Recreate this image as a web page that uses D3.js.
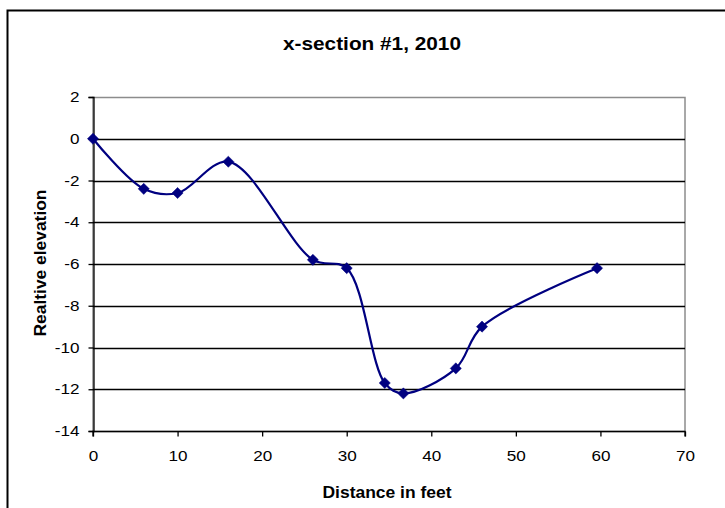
<!DOCTYPE html>
<html>
<head>
<meta charset="utf-8">
<script src="https://cdn.jsdelivr.net/npm/d3@7/dist/d3.min.js"></script>
<style>
  html, body { margin: 0; padding: 0; background: #fff; }
  svg { display: block; }
  text { font-family: "Liberation Sans", Arial, sans-serif; fill: #000; }
</style>
</head>
<body>
<svg id="chart" width="725" height="508"></svg>
<script>
const distances = [0, 6, 10, 16, 26, 30, 34.5, 36.7, 42.9, 46, 59.6];
const elevations = [0, -2.4, -2.6, -1.1, -5.8, -6.2, -11.7, -12.2, -11.0, -9.0, -6.2];
const xTicks = [0, 10, 20, 30, 40, 50, 60, 70];
const yTicks = [2, 0, -2, -4, -6, -8, -10, -12, -14];
const titleText = "x-section #1, 2010";
const xTitle = "Distance in feet";
const yTitle = "Realtive elevation";

const svg = d3.select("#chart");
const m = { left: 93, right: 685, top: 97, bottom: 431 };

// outer chart border
svg.append("rect")
  .attr("x", 7.5).attr("y", 10.5)
  .attr("width", 740).attr("height", 520)
  .attr("fill", "#fff").attr("stroke", "#000").attr("stroke-width", 2);

const x = d3.scaleLinear().domain([0, 70]).range([m.left, m.right]);
const y = d3.scaleLinear().domain([-14, 2]).range([m.bottom, m.top]);

// plot area border (gray)
svg.append("rect")
  .attr("x", m.left).attr("y", m.top + 0.5)
  .attr("width", m.right - m.left).attr("height", m.bottom - m.top)
  .attr("fill", "none").attr("stroke", "#8c8c8c").attr("stroke-width", 1.5);

// gridlines
svg.append("g").selectAll("line")
  .data(yTicks.filter(v => v > -14 && v < 2))
  .join("line")
  .attr("x1", m.left).attr("x2", m.right)
  .attr("y1", d => Math.round(y(d)) + 0.5).attr("y2", d => Math.round(y(d)) + 0.5)
  .attr("stroke", "#000").attr("stroke-width", 1.3);

// axes
const xAxis = d3.axisBottom(x).tickValues(xTicks).tickSize(5).tickPadding(14).tickFormat(d3.format("d"));
const yAxis = d3.axisLeft(y).tickValues(yTicks).tickSize(5).tickPadding(9).tickFormat(d => d < 0 ? "-" + Math.abs(d) : String(d));

const gx = svg.append("g").attr("transform", `translate(0,${m.bottom + 0.5})`).call(xAxis);
const gy = svg.append("g").attr("transform", `translate(${m.left + 0.5},0)`).call(yAxis);
[gx, gy].forEach(g => {
  g.select(".domain").attr("stroke", "#000").attr("stroke-width", 1.3);
  g.selectAll(".tick line").attr("stroke", "#000").attr("stroke-width", 1.3);
  g.selectAll("text").style("font-size", "14.5px").style("font-family", '"Liberation Sans", Arial, sans-serif').attr("fill", "#000");
});
gx.selectAll(".tick text").attr("transform", "scale(1.18,1)");
gy.selectAll(".tick text").attr("x", -14 / 1.18).attr("transform", "scale(1.18,1)");
gx.select(".domain").attr("d", `M${m.left},5V0H${m.right}V5`);

// title & axis titles
svg.append("text").attr("x", 372).attr("y", 50).attr("text-anchor", "middle")
  .attr("textLength", 178).attr("lengthAdjust", "spacingAndGlyphs")
  .style("font-size", "18px").style("font-weight", "bold").text(titleText);
svg.append("text").attr("x", 387).attr("y", 498).attr("text-anchor", "middle")
  .attr("textLength", 129).attr("lengthAdjust", "spacingAndGlyphs")
  .style("font-size", "16px").style("font-weight", "bold").text(xTitle);
svg.append("text").attr("transform", "translate(46,263) rotate(-90)").attr("text-anchor", "middle")
  .attr("textLength", 147).attr("lengthAdjust", "spacingAndGlyphs")
  .style("font-size", "16px").style("font-weight", "bold").text(yTitle);

// data
const pts = distances.map((d, i) => [d, elevations[i]]);
const line = d3.line().x(d => x(d[0])).y(d => y(d[1])).curve(d3.curveCatmullRom.alpha(0.5));
svg.append("path").datum(pts).attr("d", line)
  .attr("fill", "none").attr("stroke", "#000080").attr("stroke-width", 2.2);

const sym = d3.symbol().type(d3.symbolSquare).size(62);
svg.append("g").selectAll("path").data(pts).join("path")
  .attr("d", sym)
  .attr("transform", d => `translate(${x(d[0])},${y(d[1])}) rotate(45)`)
  .attr("fill", "#000080").attr("stroke", "#000080").attr("stroke-width", 0.5);
</script>
</body>
</html>
